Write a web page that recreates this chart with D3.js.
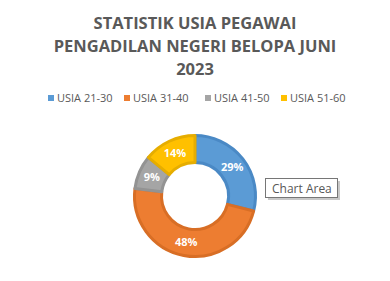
<!DOCTYPE html>
<html>
<head>
    <script src="https://d3js.org/d3.v7.min.js"></script>
    <style>
        body { margin: 0; background: #fff; font-family: 'Open Sans', sans-serif; }
        svg { display: block; }
    </style>
</head>
<body>
    <script>
        const titleLines = ['STATISTIK USIA PEGAWAI', 'PENGADILAN NEGERI BELOPA JUNI', '2023'];
        const categories = ['USIA 21-30', 'USIA 31-40', 'USIA 41-50', 'USIA 51-60'];
        const values = [29, 48, 9, 14];
        const fills = ['#5B9BD5', '#ED7D31', '#A5A5A5', '#FFC000'];
        const strokes = ['#4A89C5', '#D86E25', '#939393', '#E6AD00'];

        const width = 390, height = 281;
        const cx = 195, cy = 196, outerR = 62, innerR = 32;

        const svg = d3.select('body').append('svg')
            .attr('width', width)
            .attr('height', height);

        // title
        svg.append('g').selectAll('text')
            .data(titleLines)
            .join('text')
            .attr('x', 195)
            .attr('y', (d, i) => 29 + i * 23)
            .attr('text-anchor', 'middle')
            .attr('font-size', 16.5)
            .attr('font-weight', 'bold')
            .attr('fill', '#595959')
            .text(d => d);

        // legend
        const legendX = [48, 124, 205, 281];
        const legend = svg.append('g').selectAll('g')
            .data(categories)
            .join('g')
            .attr('transform', (d, i) => `translate(${legendX[i]},94)`);
        legend.append('rect')
            .attr('width', 6).attr('height', 6).attr('y', 1)
            .attr('fill', (d, i) => fills[i]);
        legend.append('text')
            .attr('x', 9).attr('y', 7.5)
            .attr('font-size', 11)
            .attr('fill', '#595959')
            .text(d => d);

        // donut
        const pie = d3.pie().sort(null).value(d => d);
        const arcs = pie(values);
        const arc = d3.arc().innerRadius(innerR + 1.5).outerRadius(outerR - 1.5);
        const labelArc = d3.arc().innerRadius((innerR + outerR) / 2).outerRadius((innerR + outerR) / 2);
        const total = d3.sum(values);

        const g = svg.append('g').attr('transform', `translate(${cx},${cy})`);
        g.selectAll('path')
            .data(arcs)
            .join('path')
            .attr('d', arc)
            .attr('fill', (d, i) => fills[i])
            .attr('stroke', (d, i) => strokes[i])
            .attr('stroke-width', 3)
            .attr('stroke-linejoin', 'round');

        g.selectAll('text')
            .data(arcs)
            .join('text')
            .attr('transform', d => `translate(${labelArc.centroid(d)})`)
            .attr('text-anchor', 'middle')
            .attr('dy', '0.35em')
            .attr('font-size', 11)
            .attr('font-weight', 'bold')
            .attr('fill', '#fff')
            .text(d => Math.round(d.data / total * 100) + '%');

        // tooltip
        const tip = svg.append('g').attr('transform', 'translate(265,178)');
        tip.append('rect')
            .attr('x', 3).attr('y', 3).attr('width', 72).attr('height', 19)
            .attr('fill', '#c8c8c8');
        tip.append('rect')
            .attr('x', 0.5).attr('y', 0.5).attr('width', 72).attr('height', 19)
            .attr('fill', '#fff').attr('stroke', '#767676');
        tip.append('text')
            .attr('x', 7).attr('y', 14.5)
            .attr('font-size', 12)
            .attr('fill', '#575757')
            .text('Chart Area');
    </script>
</body>
</html>
